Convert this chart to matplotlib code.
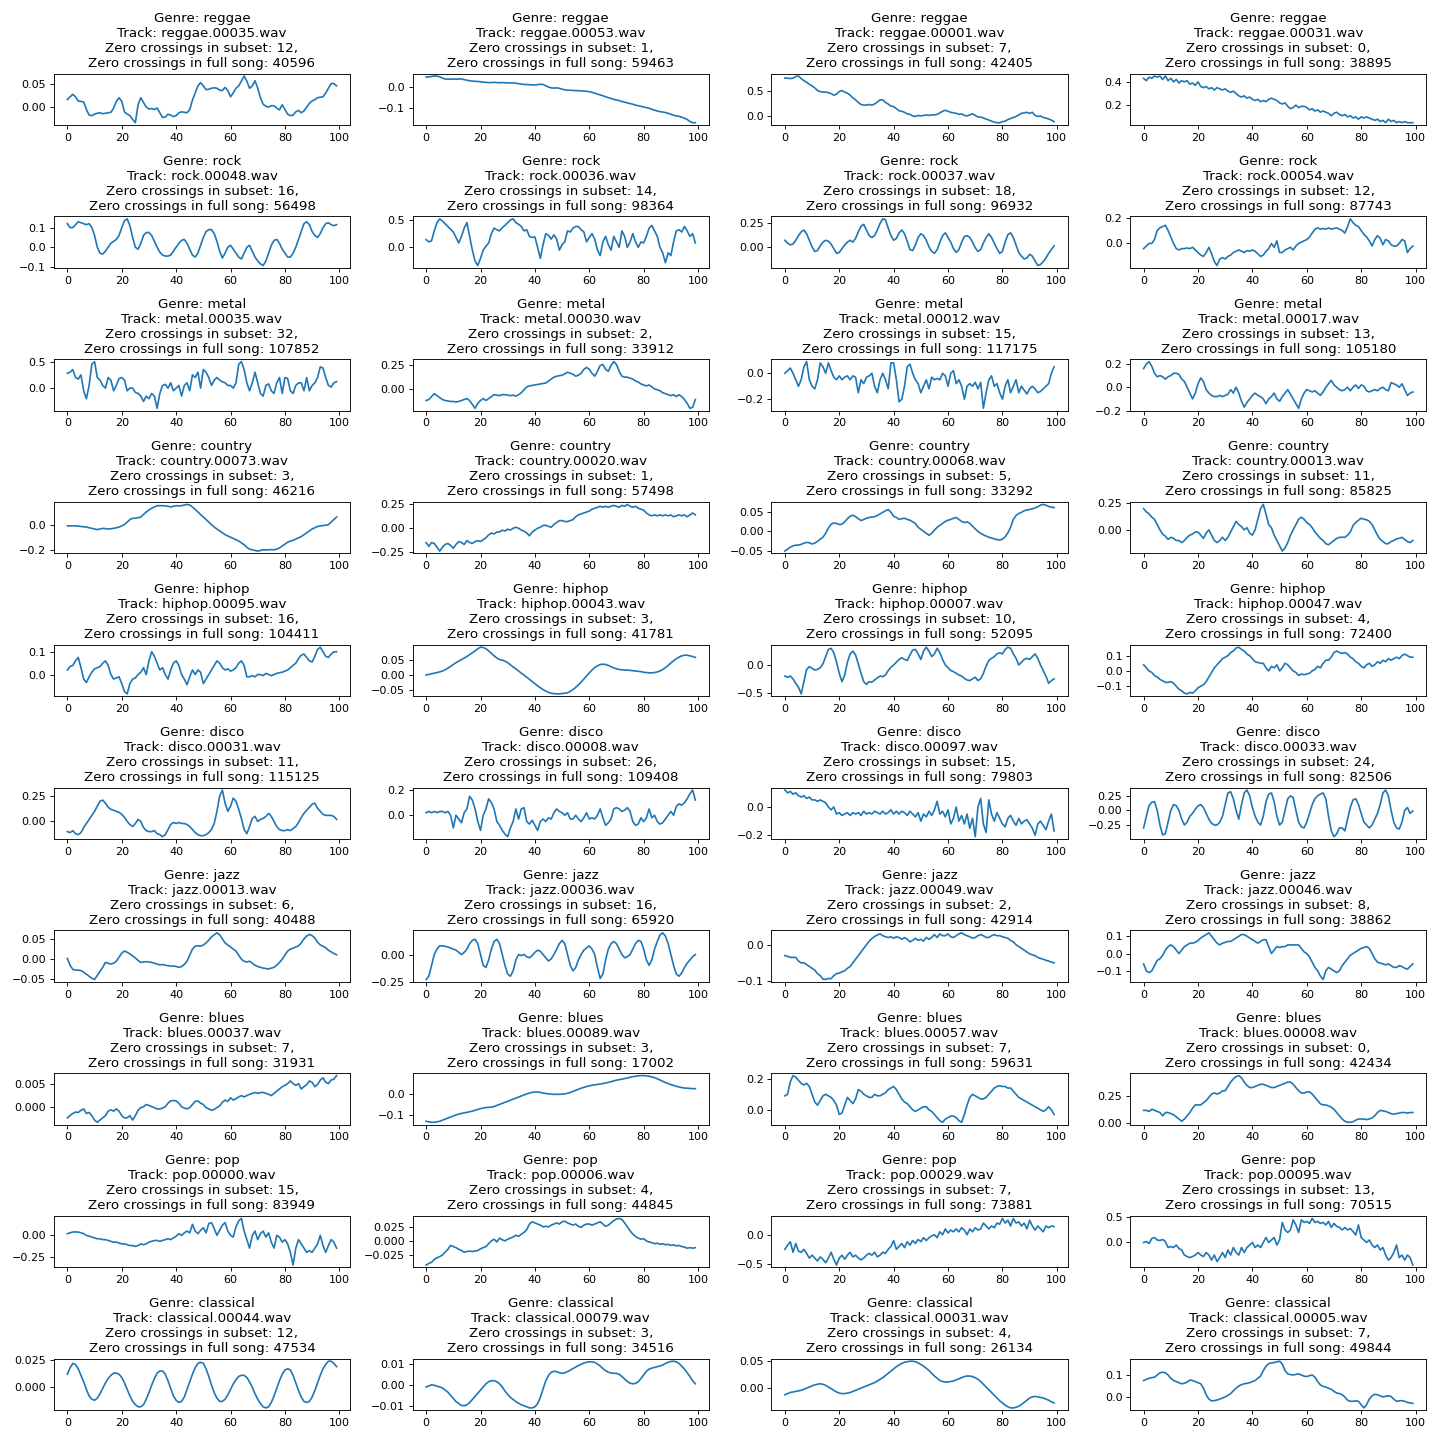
import matplotlib
matplotlib.use('Agg')
import matplotlib.pyplot as plt

genres = ['reggae', 'rock', 'metal', 'country', 'hiphop',
          'disco', 'jazz', 'blues', 'pop', 'classical']

tracks = [['00035', '00053', '00001', '00031'],
          ['00048', '00036', '00037', '00054'],
          ['00035', '00030', '00012', '00017'],
          ['00073', '00020', '00068', '00013'],
          ['00095', '00043', '00007', '00047'],
          ['00031', '00008', '00097', '00033'],
          ['00013', '00036', '00049', '00046'],
          ['00037', '00089', '00057', '00008'],
          ['00000', '00006', '00029', '00095'],
          ['00044', '00079', '00031', '00005']]

zc_subset = [[12, 1, 7, 0],
             [16, 14, 18, 12],
             [32, 2, 15, 13],
             [3, 1, 5, 11],
             [16, 3, 10, 4],
             [11, 26, 15, 24],
             [6, 16, 2, 8],
             [7, 3, 7, 0],
             [15, 4, 7, 13],
             [12, 3, 4, 7]]

zc_full = [[40596, 59463, 42405, 38895],
           [56498, 98364, 96932, 87743],
           [107852, 33912, 117175, 105180],
           [46216, 57498, 33292, 85825],
           [104411, 41781, 52095, 72400],
           [115125, 109408, 79803, 82506],
           [40488, 65920, 42914, 38862],
           [31931, 17002, 59631, 42434],
           [83949, 44845, 73881, 70515],
           [47534, 34516, 26134, 49844]]

# first 100 samples of each track
reggae_00035 = [0.016, 0.022, 0.027, 0.022, 0.013, 0.012, 0.011, -0.005, -0.017, -0.018,
                -0.015, -0.013, -0.012, -0.014, -0.013, -0.012, -0.011, -0.002, 0.012, 0.02,
                0.012, -0.01, -0.015, -0.018, -0.026, -0.033, 0.005, 0.02, 0.01, 0.0,
                -0.004, -0.003, -0.005, -0.002, -0.012, -0.022, -0.021, -0.015, -0.017, -0.02,
                -0.018, -0.012, -0.01, -0.011, -0.012, -0.005, 0.015, 0.03, 0.045, 0.052,
                0.045, 0.037, 0.038, 0.04, 0.041, 0.04, 0.036, 0.035, 0.042, 0.035,
                0.022, 0.03, 0.04, 0.045, 0.055, 0.066, 0.055, 0.04, 0.045, 0.056,
                0.04, 0.02, 0.006, 0.002, 0.0, 0.003, 0.003, -0.002, -0.006, 0.005,
                -0.005, -0.015, -0.018, -0.017, -0.01, -0.007, -0.012, -0.008, 0.0, 0.008,
                0.013, 0.016, 0.02, 0.021, 0.022, 0.03, 0.04, 0.05, 0.05, 0.045]
reggae_00053 = [0.047, 0.048, 0.05, 0.052, 0.052, 0.048, 0.042, 0.038, 0.037, 0.037,
                0.038, 0.037, 0.038, 0.038, 0.035, 0.032, 0.03, 0.028, 0.027, 0.026,
                0.025, 0.023, 0.022, 0.021, 0.021, 0.022, 0.021, 0.02, 0.021, 0.02,
                0.02, 0.019, 0.02, 0.018, 0.016, 0.014, 0.012, 0.012, 0.011, 0.01,
                0.01, 0.011, 0.013, 0.012, 0.006, 0.0, -0.004, -0.005, -0.004, -0.006,
                -0.01, -0.013, -0.015, -0.015, -0.016, -0.017, -0.017, -0.018, -0.019, -0.02,
                -0.022, -0.025, -0.029, -0.033, -0.037, -0.041, -0.046, -0.05, -0.054, -0.058,
                -0.061, -0.064, -0.068, -0.071, -0.075, -0.078, -0.081, -0.085, -0.088, -0.091,
                -0.094, -0.097, -0.1, -0.105, -0.109, -0.113, -0.116, -0.118, -0.12, -0.124,
                -0.128, -0.133, -0.136, -0.138, -0.142, -0.147, -0.153, -0.162, -0.168, -0.168]
reggae_00001 = [0.74, 0.74, 0.73, 0.74, 0.77, 0.78, 0.73, 0.69, 0.66, 0.62,
                0.59, 0.55, 0.5, 0.48, 0.47, 0.47, 0.46, 0.44, 0.41, 0.43,
                0.48, 0.5, 0.47, 0.45, 0.41, 0.36, 0.32, 0.27, 0.23, 0.22,
                0.22, 0.23, 0.22, 0.24, 0.28, 0.32, 0.32, 0.27, 0.24, 0.2,
                0.19, 0.15, 0.11, 0.1, 0.08, 0.05, 0.04, 0.01, 0.0, 0.02,
                0.01, 0.02, 0.03, 0.02, 0.03, 0.03, 0.04, 0.07, 0.1, 0.12,
                0.1, 0.08, 0.07, 0.06, 0.04, 0.05, 0.02, 0.01, 0.03, 0.05,
                0.02, -0.01, -0.01, -0.03, -0.05, -0.07, -0.09, -0.11, -0.12, -0.12,
                -0.1, -0.09, -0.06, -0.04, -0.02, 0.0, 0.03, 0.06, 0.07, 0.08,
                0.06, 0.08, 0.02, 0.0, 0.01, -0.02, -0.03, -0.05, -0.07, -0.1]
reggae_00031 = [0.43, 0.41, 0.44, 0.43, 0.45, 0.44, 0.45, 0.42, 0.45, 0.41,
                0.43, 0.4, 0.42, 0.39, 0.41, 0.4, 0.41, 0.38, 0.39, 0.37,
                0.4, 0.36, 0.35, 0.36, 0.34, 0.35, 0.33, 0.35, 0.34, 0.33,
                0.34, 0.32, 0.31, 0.32, 0.3, 0.28, 0.27, 0.28, 0.26, 0.27,
                0.25, 0.24, 0.25, 0.23, 0.24, 0.23, 0.25, 0.26, 0.25, 0.24,
                0.22, 0.21, 0.22, 0.19, 0.17, 0.18, 0.2, 0.18, 0.19, 0.19,
                0.18, 0.16, 0.17, 0.15, 0.16, 0.14, 0.15, 0.14, 0.13, 0.11,
                0.13, 0.14, 0.12, 0.11, 0.12, 0.1, 0.11, 0.09, 0.1, 0.08,
                0.1, 0.09, 0.1, 0.09, 0.08, 0.07, 0.08, 0.06, 0.07, 0.05,
                0.08, 0.06, 0.07, 0.05, 0.06, 0.05, 0.06, 0.05, 0.05, 0.05]

rock_00048 = [0.12, 0.1, 0.1, 0.115, 0.13, 0.125, 0.12, 0.115, 0.12, 0.1,
              0.06, 0.0, -0.03, -0.035, -0.02, 0.0, 0.02, 0.03, 0.04, 0.06,
              0.1, 0.135, 0.145, 0.11, 0.05, 0.0, -0.01, 0.02, 0.06, 0.075,
              0.075, 0.06, 0.03, 0.0, -0.025, -0.04, -0.045, -0.045, -0.04, -0.02,
              0.0, 0.02, 0.035, 0.04, 0.02, -0.01, -0.04, -0.05, -0.03, 0.01,
              0.05, 0.08, 0.09, 0.09, 0.07, 0.03, -0.02, -0.055, -0.03, 0.0,
              0.01, -0.01, -0.03, -0.05, -0.06, -0.03, 0.0, 0.01, -0.02, -0.05,
              -0.07, -0.085, -0.093, -0.07, -0.03, 0.01, 0.035, 0.04, 0.02, -0.01,
              -0.03, -0.05, -0.05, -0.03, 0.0, 0.04, 0.08, 0.12, 0.13, 0.115,
              0.08, 0.06, 0.05, 0.07, 0.1, 0.12, 0.125, 0.115, 0.11, 0.115]
rock_00036 = [0.14, 0.1, 0.12, 0.3, 0.45, 0.52, 0.48, 0.43, 0.38, 0.33,
              0.28, 0.18, 0.08, 0.2, 0.35, 0.45, 0.2, -0.05, -0.25, -0.33,
              -0.2, -0.05, 0.02, 0.08, 0.25, 0.35, 0.32, 0.3, 0.36, 0.4,
              0.45, 0.5, 0.52, 0.45, 0.42, 0.38, 0.3, 0.32, 0.2, 0.18,
              0.19, 0.0, -0.2, 0.05, 0.25, 0.22, 0.15, 0.23, 0.15, -0.05,
              0.05, 0.1, 0.3, 0.28, 0.35, 0.38, 0.38, 0.32, 0.28, 0.1,
              0.18, 0.25, 0.15, -0.05, -0.15, 0.1, 0.2, 0.05, -0.05, 0.2,
              0.1, 0.0, 0.3, 0.2, 0.0, 0.1, 0.25, 0.1, 0.0, 0.1,
              0.08, 0.2, 0.35, 0.4, 0.3, 0.2, 0.0, -0.1, -0.28, -0.1,
              -0.15, 0.1, 0.3, 0.32, 0.28, 0.38, 0.3, 0.2, 0.25, 0.08]
rock_00037 = [0.07, 0.04, 0.02, 0.03, 0.07, 0.12, 0.16, 0.18, 0.14, 0.07,
              0.0, -0.05, -0.04, 0.01, 0.05, 0.07, 0.06, 0.03, -0.02, -0.07,
              -0.06, -0.02, 0.02, 0.05, 0.07, 0.05, 0.09, 0.16, 0.22, 0.24,
              0.18, 0.12, 0.1, 0.12, 0.18, 0.25, 0.3, 0.29, 0.2, 0.12,
              0.07, 0.09, 0.15, 0.18, 0.14, 0.06, -0.03, -0.04, 0.02, 0.1,
              0.14, 0.12, 0.07, 0.0, -0.05, -0.07, -0.03, 0.05, 0.12, 0.15,
              0.1, 0.05, -0.02, -0.06, -0.03, 0.05, 0.11, 0.12, 0.1, 0.05,
              -0.01, -0.05, -0.03, 0.04, 0.1, 0.14, 0.1, 0.04, -0.02, -0.07,
              -0.05, 0.05, 0.13, 0.15, 0.1, 0.02, -0.06, -0.1, -0.13, -0.12,
              -0.08, -0.1, -0.15, -0.2, -0.19, -0.16, -0.12, -0.07, -0.03, 0.01]
rock_00054 = [-0.04, -0.02, 0.0, 0.0, 0.03, 0.1, 0.12, 0.13, 0.14, 0.1,
              0.05, 0.0, -0.04, -0.05, -0.04, -0.04, -0.035, -0.04, -0.03, -0.05,
              -0.07, -0.09, -0.1, -0.07, -0.03, -0.08, -0.14, -0.17, -0.12, -0.11,
              -0.12, -0.1, -0.09, -0.07, -0.06, -0.05, -0.06, -0.07, -0.055, -0.06,
              -0.05, -0.06, -0.08, -0.1, -0.09, -0.06, -0.04, 0.0, -0.03, 0.02,
              -0.07, -0.07, -0.05, -0.04, -0.03, -0.05, -0.02, 0.0, 0.01, 0.02,
              0.03, 0.05, 0.08, 0.11, 0.12, 0.11, 0.115, 0.11, 0.12, 0.11,
              0.115, 0.12, 0.11, 0.1, 0.08, 0.13, 0.19, 0.16, 0.14, 0.13,
              0.1, 0.07, 0.05, 0.02, -0.02, 0.03, 0.06, 0.04, -0.01, 0.03,
              0.02, -0.01, -0.02, -0.02, 0.0, 0.03, 0.02, -0.07, -0.04, -0.02]

metal_00035 = [0.28, 0.3, 0.35, 0.2, 0.17, 0.25, -0.05, -0.2, 0.05, 0.45,
               0.5, 0.2, 0.15, 0.05, 0.0, 0.2, 0.15, -0.05, 0.05, 0.18,
               0.2, 0.15, -0.05, 0.0, 0.0, -0.08, -0.1, -0.15, -0.25, -0.15,
               -0.2, -0.1, -0.15, -0.38, -0.1, 0.05, 0.07, 0.0, 0.1, -0.05,
               0.0, 0.05, -0.15, 0.05, 0.1, -0.05, 0.25, 0.2, 0.3, 0.0,
               0.35, 0.3, 0.2, 0.05, 0.15, 0.2, 0.15, 0.12, 0.1, 0.05,
               0.05, 0.0, 0.1, 0.45, 0.5, 0.35, 0.1, -0.05, 0.1, 0.3,
               0.1, -0.1, -0.15, 0.05, 0.08, -0.05, -0.1, 0.1, 0.2, -0.1,
               0.2, 0.18, -0.05, -0.1, 0.05, 0.1, 0.1, -0.05, 0.2, -0.05,
               0.05, 0.1, 0.2, 0.4, 0.38, 0.2, 0.05, 0.02, 0.1, 0.12]
metal_00030 = [-0.12, -0.11, -0.08, -0.05, -0.07, -0.09, -0.11, -0.12, -0.125, -0.13,
               -0.13, -0.135, -0.13, -0.12, -0.11, -0.1, -0.12, -0.16, -0.2, -0.15,
               -0.12, -0.1, -0.12, -0.1, -0.08, -0.06, -0.065, -0.07, -0.06, -0.06,
               -0.065, -0.07, -0.065, -0.075, -0.06, -0.04, -0.01, 0.02, 0.03, 0.035,
               0.04, 0.045, 0.05, 0.055, 0.06, 0.08, 0.1, 0.12, 0.13, 0.135,
               0.14, 0.155, 0.17, 0.16, 0.15, 0.13, 0.14, 0.16, 0.2, 0.22,
               0.2, 0.16, 0.13, 0.18, 0.24, 0.25, 0.2, 0.18, 0.24, 0.28,
               0.25, 0.18, 0.13, 0.12, 0.12, 0.11, 0.1, 0.08, 0.07, 0.05,
               0.04, 0.03, 0.04, 0.02, 0.0, -0.01, -0.02, -0.04, -0.05, -0.06,
               -0.07, -0.06, -0.08, -0.06, -0.08, -0.11, -0.15, -0.2, -0.19, -0.11]
metal_00012 = [0.0, 0.02, 0.04, 0.0, -0.05, -0.1, -0.05, 0.05, 0.09, -0.05,
               -0.1, -0.12, -0.05, 0.08, 0.05, 0.0, 0.08, 0.02, -0.03, -0.05,
               -0.02, -0.05, -0.03, -0.02, -0.05, -0.02, -0.03, -0.15, -0.05, -0.08,
               -0.03, -0.02, 0.0, -0.1, -0.15, -0.05, 0.0, -0.05, -0.12, 0.08,
               0.08, -0.05, -0.22, -0.2, -0.1, 0.05, 0.07, 0.0, -0.05, -0.08,
               -0.15, -0.1, -0.05, -0.12, -0.03, -0.05, -0.04, -0.05, 0.0, -0.02,
               -0.1, 0.0, 0.02, -0.08, -0.05, -0.1, -0.2, -0.1, -0.08, -0.1,
               -0.07, -0.12, -0.07, -0.27, -0.15, -0.05, -0.02, -0.1, -0.08, -0.15,
               -0.2, -0.1, -0.05, -0.15, -0.1, -0.05, -0.15, -0.1, -0.13, -0.16,
               -0.12, -0.1, -0.12, -0.15, -0.14, -0.12, -0.1, -0.08, 0.0, 0.05]
metal_00017 = [0.16, 0.2, 0.22, 0.18, 0.12, 0.09, 0.1, 0.09, 0.07, 0.09,
               0.1, 0.12, 0.12, 0.11, 0.07, 0.05, 0.0, -0.05, -0.1, -0.05,
               0.03, 0.08, 0.05, -0.02, -0.05, -0.07, -0.08, -0.08, -0.07, -0.08,
               -0.07, -0.06, -0.02, -0.05, 0.0, -0.05, -0.12, -0.17, -0.13, -0.1,
               -0.07, -0.05, -0.07, -0.08, -0.1, -0.14, -0.1, -0.08, -0.05, -0.1,
               -0.12, -0.08, -0.05, -0.02, -0.06, -0.1, -0.14, -0.18, -0.1, -0.05,
               -0.02, -0.03, -0.04, -0.03, -0.05, -0.07, -0.04, 0.0, 0.03, 0.06,
               0.02, 0.0, -0.02, -0.03, -0.02, 0.0, -0.03, 0.0, 0.02, -0.01,
               0.02, 0.01, -0.03, -0.04, -0.03, -0.02, -0.03, -0.01, 0.0, -0.02,
               -0.03, 0.04, 0.03, 0.02, 0.0, 0.03, -0.02, -0.07, -0.05, -0.04]

country_00073 = [-0.01, -0.01, -0.01, -0.01, -0.012, -0.015, -0.017, -0.02, -0.025, -0.03,
                 -0.035, -0.04, -0.035, -0.03, -0.032, -0.035, -0.033, -0.03, -0.025, -0.02,
                 -0.01, 0.0, 0.02, 0.04, 0.05, 0.05, 0.055, 0.06, 0.08, 0.1,
                 0.115, 0.13, 0.14, 0.15, 0.15, 0.15, 0.148, 0.145, 0.14, 0.145,
                 0.15, 0.148, 0.15, 0.155, 0.16, 0.155, 0.14, 0.12, 0.1, 0.08,
                 0.06, 0.04, 0.02, 0.0, -0.02, -0.035, -0.05, -0.065, -0.08, -0.09,
                 -0.1, -0.11, -0.12, -0.13, -0.145, -0.16, -0.18, -0.195, -0.2, -0.205,
                 -0.21, -0.205, -0.2, -0.2, -0.2, -0.198, -0.2, -0.195, -0.185, -0.17,
                 -0.155, -0.14, -0.13, -0.125, -0.115, -0.105, -0.095, -0.08, -0.065, -0.05,
                 -0.035, -0.025, -0.015, -0.01, -0.008, -0.005, 0.0, 0.02, 0.04, 0.06]
country_00020 = [-0.15, -0.19, -0.15, -0.16, -0.2, -0.24, -0.2, -0.17, -0.16, -0.18,
                 -0.21, -0.17, -0.14, -0.15, -0.17, -0.13, -0.15, -0.16, -0.14, -0.13,
                 -0.14, -0.12, -0.1, -0.07, -0.05, -0.06, -0.04, -0.04, -0.02, -0.03,
                 -0.01, -0.02, 0.0, 0.01, 0.0, -0.02, -0.03, -0.05, -0.08, -0.04,
                 -0.02, 0.0, 0.01, 0.03, 0.03, 0.02, 0.01, 0.04, 0.06, 0.08,
                 0.08, 0.07, 0.07, 0.08, 0.09, 0.12, 0.14, 0.15, 0.16, 0.17,
                 0.18, 0.2, 0.21, 0.22, 0.23, 0.22, 0.23, 0.22, 0.23, 0.24,
                 0.23, 0.22, 0.24, 0.23, 0.25, 0.23, 0.22, 0.23, 0.21, 0.2,
                 0.19, 0.16, 0.14, 0.13, 0.14, 0.13, 0.14, 0.13, 0.14, 0.13,
                 0.14, 0.12, 0.13, 0.14, 0.13, 0.14, 0.12, 0.14, 0.16, 0.14]
country_00068 = [-0.05, -0.045, -0.04, -0.037, -0.035, -0.035, -0.033, -0.03, -0.028, -0.029,
                 -0.032, -0.03, -0.025, -0.02, -0.015, -0.005, 0.008, 0.018, 0.021, 0.02,
                 0.017, 0.018, 0.024, 0.032, 0.038, 0.041, 0.037, 0.032, 0.027, 0.03,
                 0.033, 0.035, 0.036, 0.037, 0.04, 0.044, 0.048, 0.052, 0.055, 0.048,
                 0.038, 0.035, 0.03, 0.032, 0.033, 0.03, 0.028, 0.024, 0.02, 0.01,
                 0.005, 0.0, -0.005, -0.01, -0.005, 0.003, 0.01, 0.015, 0.02, 0.025,
                 0.028, 0.03, 0.033, 0.035, 0.03, 0.025, 0.022, 0.024, 0.02, 0.013,
                 0.006, 0.0, -0.005, -0.009, -0.012, -0.015, -0.017, -0.019, -0.021, -0.022,
                 -0.02, -0.014, -0.004, 0.01, 0.03, 0.04, 0.045, 0.048, 0.052, 0.054,
                 0.055, 0.057, 0.059, 0.062, 0.066, 0.068, 0.066, 0.063, 0.061, 0.06]
country_00013 = [0.2, 0.17, 0.15, 0.12, 0.1, 0.05, 0.0, -0.04, -0.06, -0.09,
                 -0.07, -0.08, -0.1, -0.1, -0.12, -0.1, -0.07, -0.05, -0.04, -0.02,
                 -0.02, -0.05, -0.08, -0.03, 0.0, -0.05, -0.1, -0.12, -0.1, -0.07,
                 -0.1, -0.07, -0.02, 0.03, 0.08, 0.05, 0.03, 0.0, 0.02, -0.03,
                 -0.05, 0.0, 0.1, 0.2, 0.24, 0.15, 0.05, 0.02, -0.05, -0.1,
                 -0.15, -0.2, -0.17, -0.12, -0.05, 0.0, 0.05, 0.1, 0.12, 0.1,
                 0.07, 0.05, 0.02, -0.02, -0.05, -0.08, -0.1, -0.13, -0.14, -0.12,
                 -0.1, -0.08, -0.07, -0.07, -0.07, -0.05, -0.02, 0.04, 0.07, 0.09,
                 0.11, 0.1, 0.095, 0.08, 0.05, 0.0, -0.05, -0.09, -0.11, -0.13,
                 -0.13, -0.11, -0.1, -0.085, -0.08, -0.07, -0.09, -0.11, -0.12, -0.1]

hiphop_00095 = [0.02, 0.035, 0.04, 0.06, 0.075, 0.03, -0.02, -0.035, -0.01, 0.01,
                0.025, 0.03, 0.035, 0.05, 0.06, 0.04, 0.0, -0.02, -0.015, -0.01,
                -0.04, -0.075, -0.085, -0.04, -0.02, -0.015, 0.0, 0.01, 0.03, 0.0,
                0.06, 0.1, 0.08, 0.05, 0.02, 0.03, 0.0, -0.02, 0.02, 0.05,
                0.06, 0.04, 0.0, -0.02, -0.045, -0.01, 0.02, 0.0, 0.02, 0.01,
                -0.04, -0.02, 0.0, 0.02, 0.04, 0.06, 0.05, 0.03, 0.02, 0.025,
                0.015, 0.02, 0.03, 0.05, 0.06, 0.04, -0.01, -0.01, -0.005, -0.01,
                0.0, 0.0, -0.005, 0.005, 0.0, -0.005, 0.0, 0.005, 0.008, 0.01,
                0.015, 0.02, 0.03, 0.04, 0.05, 0.07, 0.085, 0.09, 0.075, 0.06,
                0.055, 0.08, 0.11, 0.12, 0.1, 0.08, 0.075, 0.09, 0.1, 0.1]
hiphop_00043 = [0.0, 0.002, 0.004, 0.006, 0.008, 0.01, 0.013, 0.017, 0.022, 0.028,
                0.034, 0.04, 0.045, 0.05, 0.055, 0.06, 0.066, 0.072, 0.078, 0.085,
                0.09, 0.089, 0.085, 0.078, 0.07, 0.062, 0.055, 0.05, 0.048, 0.045,
                0.04, 0.033, 0.026, 0.02, 0.013, 0.006, 0.0, -0.007, -0.014, -0.021,
                -0.028, -0.035, -0.041, -0.047, -0.052, -0.056, -0.059, -0.06, -0.061, -0.061,
                -0.06, -0.059, -0.057, -0.053, -0.047, -0.04, -0.032, -0.023, -0.013, -0.003,
                0.007, 0.016, 0.024, 0.03, 0.034, 0.035, 0.034, 0.031, 0.027, 0.023,
                0.02, 0.018, 0.017, 0.016, 0.016, 0.015, 0.014, 0.013, 0.012, 0.011,
                0.009, 0.008, 0.007, 0.007, 0.008, 0.01, 0.013, 0.018, 0.024, 0.031,
                0.039, 0.046, 0.053, 0.058, 0.062, 0.064, 0.064, 0.062, 0.06, 0.057]
hiphop_00007 = [-0.2, -0.22, -0.2, -0.25, -0.33, -0.4, -0.52, -0.3, -0.08, -0.03,
                -0.06, -0.09, -0.08, -0.05, 0.02, 0.15, 0.28, 0.3, 0.22, 0.05,
                -0.15, -0.3, -0.18, 0.05, 0.2, 0.25, 0.18, 0.02, -0.15, -0.3,
                -0.35, -0.3, -0.31, -0.27, -0.23, -0.2, -0.21, -0.18, -0.1, -0.04,
                0.0, 0.05, 0.1, 0.13, 0.1, 0.08, 0.18, 0.27, 0.28, 0.2,
                0.1, 0.25, 0.32, 0.25, 0.15, 0.2, 0.3, 0.22, 0.1, 0.0,
                -0.05, -0.1, -0.12, -0.15, -0.18, -0.2, -0.24, -0.27, -0.28, -0.25,
                -0.22, -0.28, -0.25, -0.15, -0.02, 0.08, 0.12, 0.15, 0.2, 0.22,
                0.2, 0.28, 0.32, 0.3, 0.2, 0.12, 0.0, 0.05, 0.1, 0.12,
                0.1, 0.15, 0.2, 0.12, 0.0, -0.1, -0.2, -0.33, -0.28, -0.25]
hiphop_00047 = [0.04, 0.02, 0.0, -0.01, -0.03, -0.04, -0.055, -0.065, -0.075, -0.075,
                -0.07, -0.08, -0.1, -0.12, -0.13, -0.145, -0.15, -0.14, -0.145, -0.13,
                -0.11, -0.1, -0.09, -0.07, -0.04, -0.01, 0.02, 0.04, 0.06, 0.08,
                0.09, 0.1, 0.12, 0.13, 0.15, 0.155, 0.14, 0.13, 0.11, 0.1,
                0.08, 0.06, 0.055, 0.05, 0.05, 0.02, 0.0, 0.03, 0.02, 0.04,
                0.0, 0.02, 0.05, 0.04, 0.02, 0.0, -0.01, -0.03, -0.02, -0.025,
                -0.02, -0.015, 0.0, 0.01, 0.03, 0.02, 0.05, 0.07, 0.07, 0.09,
                0.12, 0.13, 0.12, 0.115, 0.12, 0.11, 0.09, 0.08, 0.06, 0.05,
                0.03, 0.02, 0.04, 0.05, 0.03, 0.04, 0.06, 0.05, 0.07, 0.06,
                0.08, 0.07, 0.08, 0.09, 0.08, 0.1, 0.11, 0.1, 0.09, 0.09]

disco_00031 = [-0.1, -0.11, -0.09, -0.12, -0.13, -0.11, -0.06, -0.02, 0.02, 0.06,
               0.1, 0.15, 0.2, 0.21, 0.18, 0.14, 0.12, 0.11, 0.1, 0.09,
               0.07, 0.04, 0.0, -0.03, -0.05, -0.02, 0.02, 0.0, -0.06, -0.09,
               -0.1, -0.1, -0.09, -0.12, -0.13, -0.15, -0.13, -0.08, -0.03, -0.01,
               -0.02, -0.01, -0.02, -0.02, -0.03, -0.05, -0.08, -0.11, -0.13, -0.14,
               -0.14, -0.13, -0.11, -0.08, -0.02, 0.1, 0.25, 0.31, 0.18, 0.1,
               0.15, 0.23, 0.2, 0.12, 0.03, -0.08, -0.12, -0.05, 0.03, 0.05,
               0.0, 0.02, 0.03, 0.05, 0.08, 0.05, 0.0, -0.05, -0.08, -0.09,
               -0.09, -0.08, -0.09, -0.07, -0.05, -0.01, 0.04, 0.08, 0.11, 0.14,
               0.17, 0.18, 0.13, 0.1, 0.07, 0.06, 0.06, 0.06, 0.05, 0.02]
disco_00008 = [0.02, 0.03, 0.02, 0.03, 0.02, 0.03, 0.03, 0.02, 0.03, 0.0,
               -0.1, 0.0, -0.03, -0.06, 0.02, 0.05, 0.15, 0.12, 0.05, -0.05,
               -0.12, 0.0, 0.05, 0.13, 0.1, 0.05, -0.05, -0.08, -0.12, -0.15,
               -0.17, -0.1, -0.05, 0.05, -0.03, 0.05, 0.06, -0.05, -0.07, -0.04,
               -0.08, -0.12, -0.05, -0.03, -0.05, -0.02, -0.03, 0.02, 0.05, 0.03,
               0.02, 0.0, 0.02, -0.03, -0.03, 0.0, -0.03, -0.05, -0.02, 0.02,
               -0.03, -0.02, -0.03, 0.0, 0.05, -0.02, -0.08, -0.06, -0.03, 0.05,
               0.06, 0.05, 0.03, 0.04, 0.06, 0.03, -0.05, -0.08, -0.07, -0.02,
               -0.05, -0.02, 0.05, -0.02, 0.0, -0.05, -0.07, -0.06, -0.03, 0.0,
               0.03, 0.0, 0.07, 0.09, 0.08, 0.1, 0.13, 0.17, 0.2, 0.12]
disco_00097 = [0.12, 0.1, 0.11, 0.09, 0.1, 0.08, 0.07, 0.08, 0.06, 0.07,
               0.05, 0.05, 0.04, 0.05, 0.04, 0.03, 0.0, -0.02, 0.0, -0.05,
               -0.04, -0.06, -0.05, -0.04, -0.06, -0.04, -0.05, -0.04, -0.06, -0.03,
               -0.05, -0.04, -0.05, -0.03, -0.04, -0.05, -0.03, -0.05, -0.04, -0.02,
               -0.05, -0.03, -0.05, -0.03, -0.04, -0.06, -0.03, -0.05, -0.07, -0.04,
               -0.1, -0.05, -0.07, -0.03, -0.06, -0.02, 0.04, -0.05, -0.03, -0.07,
               -0.02, -0.12, -0.08, 0.0, -0.1, -0.06, -0.12, -0.05, -0.15, -0.08,
               -0.21, 0.0, 0.06, -0.12, -0.18, 0.05, -0.05, -0.1, -0.04, -0.08,
               -0.12, -0.14, -0.08, -0.06, -0.1, -0.13, -0.08, -0.12, -0.1, -0.09,
               -0.12, -0.15, -0.2, -0.12, -0.1, -0.13, -0.16, -0.1, -0.05, -0.17]
disco_00033 = [-0.3, -0.1, 0.08, 0.14, 0.15, 0.0, -0.25, -0.42, -0.4, -0.2,
               0.0, 0.1, 0.08, 0.0, -0.15, -0.25, -0.2, -0.1, -0.05, 0.02,
               0.08, 0.1, 0.05, -0.05, -0.15, -0.22, -0.25, -0.25, -0.2, -0.1,
               0.1, 0.3, 0.32, 0.2, 0.0, -0.15, 0.1, 0.3, 0.35, 0.25,
               0.05, -0.1, -0.2, -0.25, -0.1, 0.15, 0.28, 0.3, 0.15, -0.1,
               -0.25, -0.2, 0.0, 0.2, 0.25, 0.22, 0.0, -0.2, -0.28, -0.3,
               -0.2, -0.05, 0.1, 0.2, 0.25, 0.28, 0.3, 0.2, -0.1, -0.35,
               -0.45, -0.4, -0.3, -0.3, -0.35, -0.15, 0.05, 0.18, 0.2, 0.1,
               -0.05, -0.2, -0.25, -0.3, -0.25, -0.15, -0.05, 0.1, 0.3, 0.35,
               0.25, 0.0, -0.2, -0.3, -0.32, -0.2, 0.0, 0.05, -0.05, -0.01]

jazz_00013 = [0.002, -0.015, -0.025, -0.027, -0.027, -0.028, -0.032, -0.037, -0.042, -0.047,
              -0.05, -0.04, -0.03, -0.02, -0.008, -0.01, -0.012, -0.01, -0.005, 0.005,
              0.015, 0.02, 0.017, 0.013, 0.008, 0.003, -0.003, -0.008, -0.007, -0.006,
              -0.007, -0.008, -0.01, -0.012, -0.014, -0.013, -0.015, -0.016, -0.017, -0.017,
              -0.018, -0.02, -0.018, -0.013, -0.005, 0.01, 0.025, 0.032, 0.033, 0.032,
              0.035, 0.04, 0.047, 0.055, 0.06, 0.065, 0.06, 0.05, 0.04, 0.035,
              0.03, 0.025, 0.02, 0.01, 0.0, -0.005, -0.007, -0.005, -0.01, -0.015,
              -0.018, -0.02, -0.022, -0.023, -0.024, -0.022, -0.02, -0.015, -0.008, 0.0,
              0.01, 0.02, 0.025, 0.027, 0.03, 0.033, 0.04, 0.05, 0.057, 0.061,
              0.058, 0.052, 0.042, 0.035, 0.032, 0.028, 0.022, 0.018, 0.014, 0.011]
jazz_00036 = [-0.23, -0.2, -0.1, 0.0, 0.05, 0.08, 0.08, 0.075, 0.07, 0.06,
              0.05, 0.04, 0.02, 0.0, 0.02, 0.05, 0.1, 0.13, 0.14, 0.1,
              0.0, -0.1, -0.12, -0.05, 0.05, 0.12, 0.14, 0.1, 0.0, -0.1,
              -0.18, -0.2, -0.15, -0.05, 0.0, -0.01, 0.0, -0.02, -0.03, -0.01,
              0.02, 0.04, 0.03, 0.0, -0.03, -0.06, -0.04, 0.0, 0.05, 0.1,
              0.13, 0.1, 0.0, -0.1, -0.15, -0.12, -0.05, 0.0, 0.04, 0.06,
              0.08, 0.05, 0.0, -0.12, -0.22, -0.18, -0.05, 0.05, 0.1, 0.12,
              0.1, 0.05, 0.0, -0.03, -0.02, 0.0, 0.05, 0.1, 0.13, 0.12,
              0.05, -0.05, -0.1, -0.05, 0.05, 0.12, 0.18, 0.2, 0.17, 0.1,
              0.0, -0.1, -0.18, -0.2, -0.17, -0.12, -0.08, -0.05, -0.02, 0.0]
jazz_00049 = [-0.03, -0.032, -0.035, -0.035, -0.035, -0.045, -0.05, -0.05, -0.055, -0.06,
              -0.065, -0.07, -0.08, -0.085, -0.095, -0.096, -0.093, -0.094, -0.085, -0.08,
              -0.078, -0.075, -0.072, -0.065, -0.06, -0.05, -0.04, -0.03, -0.02, -0.01,
              0.0, 0.01, 0.017, 0.023, 0.027, 0.03, 0.025, 0.022, 0.02, 0.022,
              0.018, 0.022, 0.02, 0.015, 0.02, 0.015, 0.008, 0.012, 0.018, 0.012,
              0.015, 0.01, 0.02, 0.015, 0.02, 0.028, 0.02, 0.03, 0.025, 0.025,
              0.03, 0.022, 0.02, 0.025, 0.03, 0.033, 0.028, 0.025, 0.022, 0.018,
              0.02, 0.025, 0.028, 0.025, 0.02, 0.02, 0.025, 0.028, 0.025, 0.025,
              0.022, 0.02, 0.018, 0.012, 0.008, 0.0, -0.005, -0.01, -0.015, -0.02,
              -0.025, -0.028, -0.03, -0.035, -0.038, -0.04, -0.043, -0.045, -0.048, -0.05]
jazz_00046 = [-0.06, -0.1, -0.11, -0.1, -0.07, -0.04, -0.03, -0.01, 0.02, 0.04,
              0.05, 0.04, 0.02, 0.0, 0.02, 0.04, 0.05, 0.06, 0.06, 0.065,
              0.075, 0.09, 0.1, 0.11, 0.12, 0.1, 0.08, 0.06, 0.05, 0.06,
              0.065, 0.07, 0.07, 0.08, 0.09, 0.1, 0.11, 0.11, 0.1, 0.09,
              0.08, 0.07, 0.06, 0.07, 0.08, 0.08, 0.04, 0.0, 0.02, 0.04,
              0.035, 0.04, 0.04, 0.05, 0.05, 0.05, 0.05, 0.05, 0.03, 0.01,
              0.0, -0.02, -0.05, -0.08, -0.1, -0.13, -0.15, -0.1, -0.08, -0.09,
              -0.1, -0.11, -0.1, -0.07, -0.05, -0.03, -0.01, 0.0, 0.01, 0.02,
              0.03, 0.035, 0.04, 0.03, 0.0, -0.03, -0.05, -0.055, -0.06, -0.065,
              -0.06, -0.07, -0.08, -0.08, -0.07, -0.075, -0.085, -0.09, -0.075, -0.06]

blues_00037 = [-0.0025, -0.002, -0.0015, -0.0012, -0.0013, -0.0008, -0.0005, -0.0015, -0.0013, -0.002,
               -0.003, -0.0035, -0.003, -0.0025, -0.002, -0.001, -0.0007, -0.001, -0.0005, -0.001,
               -0.002, -0.0025, -0.0025, -0.002, -0.003, -0.002, -0.0008, -0.0002, 0.0, 0.0005,
               0.0003, 0.0, -0.0002, -0.0005, -0.0005, -0.0003, 0.0, 0.0008, 0.0013, 0.0014,
               0.0013, 0.0008, 0.0, -0.0003, -0.0005, -0.0002, 0.0005, 0.0012, 0.0013, 0.0008,
               0.0005, -0.0002, -0.0005, -0.0008, -0.0006, -0.0002, 0.0002, 0.001, 0.0015, 0.0012,
               0.002, 0.0015, 0.0018, 0.0022, 0.0025, 0.0022, 0.0025, 0.0028, 0.003, 0.0032,
               0.003, 0.0032, 0.0032, 0.003, 0.0028, 0.0025, 0.003, 0.0035, 0.004, 0.0045,
               0.0048, 0.0052, 0.0058, 0.0052, 0.0048, 0.0052, 0.004, 0.0045, 0.005, 0.0058,
               0.0055, 0.0045, 0.005, 0.006, 0.0065, 0.0055, 0.0052, 0.006, 0.0062, 0.007]
blues_00089 = [-0.13, -0.133, -0.135, -0.135, -0.133, -0.13, -0.125, -0.12, -0.115, -0.11,
               -0.105, -0.1, -0.096, -0.093, -0.09, -0.088, -0.085, -0.082, -0.078, -0.074,
               -0.07, -0.067, -0.065, -0.064, -0.063, -0.06, -0.055, -0.05, -0.045, -0.04,
               -0.035, -0.03, -0.025, -0.02, -0.015, -0.01, -0.005, 0.0, 0.004, 0.007,
               0.009, 0.009, 0.007, 0.004, 0.002, 0.0, -0.001, -0.002, -0.002, -0.002,
               -0.001, 0.0, 0.003, 0.007, 0.012, 0.017, 0.022, 0.027, 0.031, 0.035,
               0.038, 0.041, 0.043, 0.045, 0.047, 0.049, 0.052, 0.055, 0.058, 0.062,
               0.065, 0.068, 0.07, 0.073, 0.076, 0.079, 0.082, 0.084, 0.086, 0.087,
               0.087, 0.086, 0.084, 0.081, 0.077, 0.072, 0.066, 0.06, 0.054, 0.049,
               0.044, 0.04, 0.036, 0.033, 0.03, 0.028, 0.027, 0.026, 0.025, 0.025]
blues_00057 = [0.09, 0.1, 0.18, 0.22, 0.21, 0.19, 0.17, 0.16, 0.17, 0.15,
               0.1, 0.05, 0.03, 0.06, 0.09, 0.1, 0.09, 0.08, 0.06, 0.03,
               -0.03, -0.02, 0.03, 0.08, 0.06, 0.04, 0.07, 0.13, 0.12, 0.1,
               0.09, 0.08, 0.08, 0.1, 0.09, 0.09, 0.1, 0.11, 0.13, 0.14,
               0.15, 0.13, 0.1, 0.07, 0.05, 0.04, 0.02, 0.0, -0.01, 0.0,
               0.01, 0.02, 0.02, 0.0, -0.01, -0.03, -0.05, -0.07, -0.08, -0.06,
               -0.05, -0.04, -0.04, -0.05, -0.07, -0.08, -0.03, 0.03, 0.08, 0.1,
               0.09, 0.08, 0.07, 0.07, 0.08, 0.1, 0.12, 0.14, 0.15, 0.155,
               0.15, 0.15, 0.14, 0.14, 0.12, 0.1, 0.08, 0.07, 0.06, 0.05,
               0.04, 0.03, 0.02, 0.01, 0.0, -0.01, 0.0, 0.02, 0.0, -0.03]
blues_00008 = [0.12, 0.12, 0.11, 0.13, 0.12, 0.11, 0.1, 0.07, 0.1, 0.1,
               0.09, 0.08, 0.06, 0.04, 0.02, 0.04, 0.07, 0.1, 0.14, 0.17,
               0.17, 0.17, 0.19, 0.21, 0.24, 0.27, 0.28, 0.27, 0.28, 0.3,
               0.3, 0.34, 0.38, 0.41, 0.43, 0.44, 0.42, 0.38, 0.35, 0.33,
               0.33, 0.34, 0.35, 0.36, 0.36, 0.35, 0.34, 0.33, 0.33, 0.34,
               0.35, 0.36, 0.37, 0.38, 0.38, 0.36, 0.33, 0.3, 0.28, 0.28,
               0.29, 0.29, 0.27, 0.24, 0.21, 0.18, 0.17, 0.17, 0.16, 0.15,
               0.13, 0.1, 0.07, 0.04, 0.02, 0.01, 0.01, 0.015, 0.03, 0.04,
               0.04, 0.04, 0.035, 0.04, 0.05, 0.07, 0.1, 0.12, 0.115, 0.11,
               0.1, 0.09, 0.085, 0.09, 0.095, 0.1, 0.1, 0.095, 0.1, 0.1]

pop_00000 = [0.02, 0.03, 0.04, 0.04, 0.04, 0.03, 0.02, 0.0, -0.01, -0.02,
             -0.03, -0.04, -0.04, -0.05, -0.05, -0.06, -0.07, -0.08, -0.08, -0.09,
             -0.1, -0.1, -0.11, -0.12, -0.12, -0.13, -0.12, -0.1, -0.11, -0.1,
             -0.08, -0.07, -0.06, -0.06, -0.07, -0.06, -0.05, -0.04, -0.05, -0.03,
             -0.01, 0.02, 0.0, 0.03, 0.05, 0.03, 0.13, 0.05, 0.02, 0.06,
             0.09, 0.03, 0.14, 0.15, 0.08, 0.0, 0.06, 0.12, 0.15, 0.05,
             0.0, -0.02, 0.1, 0.17, 0.2, 0.05, -0.05, -0.15, 0.0, 0.05,
             -0.05, 0.02, 0.05, -0.02, 0.03, -0.08, -0.15, 0.0, -0.02, -0.08,
             -0.05, -0.1, -0.2, -0.35, -0.15, -0.05, -0.1, -0.15, -0.2, -0.18,
             -0.2, -0.15, -0.1, 0.0, -0.12, -0.2, -0.12, -0.05, -0.08, -0.15]
pop_00006 = [-0.043, -0.04, -0.038, -0.033, -0.03, -0.028, -0.025, -0.02, -0.015, -0.008,
             -0.01, -0.012, -0.015, -0.017, -0.02, -0.019, -0.018, -0.019, -0.018, -0.017,
             -0.014, -0.012, -0.01, -0.005, 0.0, 0.003, -0.002, 0.005, 0.002, 0.0,
             0.003, 0.005, 0.007, 0.01, 0.008, 0.012, 0.015, 0.02, 0.03, 0.034,
             0.032, 0.03, 0.028, 0.025, 0.026, 0.025, 0.028, 0.03, 0.032, 0.03,
             0.034, 0.035, 0.032, 0.03, 0.028, 0.03, 0.026, 0.024, 0.028, 0.03,
             0.03, 0.028, 0.03, 0.032, 0.034, 0.03, 0.026, 0.028, 0.032, 0.036,
             0.039, 0.04, 0.038, 0.032, 0.025, 0.018, 0.012, 0.008, 0.005, 0.003,
             0.004, 0.0, -0.002, -0.003, -0.005, -0.004, -0.006, -0.005, -0.007, -0.006,
             -0.008, -0.007, -0.009, -0.008, -0.01, -0.011, -0.013, -0.012, -0.013, -0.012]
pop_00029 = [-0.25, -0.18, -0.12, -0.3, -0.15, -0.28, -0.3, -0.25, -0.32, -0.4,
             -0.35, -0.4, -0.45, -0.38, -0.42, -0.48, -0.4, -0.3, -0.42, -0.52,
             -0.4, -0.35, -0.42, -0.35, -0.3, -0.38, -0.35, -0.4, -0.43, -0.4,
             -0.35, -0.32, -0.35, -0.3, -0.38, -0.35, -0.3, -0.32, -0.25, -0.2,
             -0.1, -0.25, -0.2, -0.15, -0.22, -0.12, -0.18, -0.1, -0.15, -0.08,
             -0.12, -0.05, -0.1, -0.05, -0.02, 0.0, -0.05, 0.05, 0.0, 0.1,
             0.03, 0.08, 0.05, 0.1, 0.05, 0.12, 0.08, 0.0, 0.1, 0.05,
             0.12, 0.08, 0.1, 0.2, 0.15, 0.1, 0.15, 0.12, 0.2, 0.18,
             0.28, 0.2, 0.25, 0.15, 0.28, 0.2, 0.22, 0.15, 0.2, 0.1,
             0.25, 0.15, 0.08, 0.15, 0.1, 0.05, 0.15, 0.12, 0.15, 0.14]
pop_00095 = [0.0, 0.02, -0.02, 0.08, 0.1, 0.05, 0.04, 0.06, 0.02, -0.1,
             -0.08, -0.1, -0.05, -0.12, -0.15, -0.25, -0.28, -0.3, -0.28, -0.25,
             -0.2, -0.25, -0.28, -0.2, -0.25, -0.35, -0.25, -0.38, -0.3, -0.2,
             -0.3, -0.15, -0.25, -0.1, -0.2, -0.25, -0.1, -0.2, -0.1, -0.05,
             0.0, -0.1, -0.05, -0.1, 0.0, 0.1, 0.0, 0.05, 0.1, -0.05,
             0.05, 0.4, 0.25, 0.2, 0.25, 0.45, 0.35, 0.2, 0.45, 0.4,
             0.42, 0.38, 0.48, 0.4, 0.42, 0.38, 0.4, 0.35, 0.42, 0.3,
             0.38, 0.32, 0.3, 0.25, 0.3, 0.25, 0.28, 0.22, 0.15, 0.35,
             0.1, 0.05, 0.0, 0.05, -0.05, -0.1, -0.05, -0.15, -0.1, -0.25,
             -0.35, -0.3, -0.2, -0.05, -0.3, -0.25, -0.35, -0.25, -0.3, -0.45]

classical_00044 = [0.012, 0.018, 0.022, 0.021, 0.017, 0.011, 0.005, -0.002, -0.008, -0.011,
                   -0.012, -0.01, -0.006, -0.001, 0.004, 0.008, 0.011, 0.013, 0.013, 0.012,
                   0.009, 0.004, -0.002, -0.008, -0.013, -0.016, -0.018, -0.018, -0.016, -0.011,
                   -0.005, 0.002, 0.008, 0.013, 0.015, 0.015, 0.012, 0.006, -0.001, -0.008,
                   -0.012, -0.014, -0.013, -0.009, -0.002, 0.005, 0.012, 0.018, 0.022, 0.023,
                   0.022, 0.017, 0.01, 0.002, -0.005, -0.01, -0.013, -0.013, -0.011, -0.007,
                   -0.002, 0.003, 0.007, 0.01, 0.011, 0.011, 0.009, 0.005, 0.0, -0.006,
                   -0.011, -0.015, -0.018, -0.019, -0.018, -0.014, -0.008, -0.001, 0.006, 0.012,
                   0.016, 0.017, 0.016, 0.011, 0.004, -0.003, -0.009, -0.013, -0.014, -0.013,
                   -0.009, -0.003, 0.004, 0.011, 0.017, 0.021, 0.024, 0.024, 0.022, 0.019]
classical_00079 = [-0.001, -0.0005, 0.0, -0.0002, -0.0006, -0.001, -0.0015, -0.0025, -0.0035, -0.005,
                   -0.0065, -0.008, -0.009, -0.0098, -0.01, -0.0095, -0.0085, -0.007, -0.0055, -0.004,
                   -0.0025, -0.001, 0.0005, 0.0015, 0.002, 0.002, 0.0015, 0.0005, -0.001, -0.003,
                   -0.0045, -0.006, -0.007, -0.008, -0.0088, -0.0095, -0.01, -0.0105, -0.011, -0.011,
                   -0.0105, -0.009, -0.006, -0.002, 0.002, 0.0045, 0.006, 0.0065, 0.0063, 0.0058,
                   0.0055, 0.0058, 0.0063, 0.007, 0.0078, 0.0085, 0.0092, 0.0098, 0.0104, 0.0108,
                   0.011, 0.011, 0.0107, 0.01, 0.009, 0.0078, 0.0068, 0.006, 0.0057, 0.0055,
                   0.0055, 0.005, 0.004, 0.0028, 0.0016, 0.0008, 0.0005, 0.0007, 0.0015, 0.003,
                   0.0048, 0.0065, 0.0075, 0.008, 0.0083, 0.0087, 0.009, 0.0095, 0.0102, 0.0108,
                   0.0112, 0.0113, 0.011, 0.0102, 0.009, 0.0075, 0.0058, 0.004, 0.002, 0.0005]
classical_00031 = [-0.012, -0.01, -0.008, -0.007, -0.006, -0.005, -0.004, -0.002, 0.0, 0.002,
                   0.004, 0.006, 0.007, 0.008, 0.007, 0.005, 0.002, -0.001, -0.004, -0.007,
                   -0.009, -0.01, -0.01, -0.009, -0.008, -0.006, -0.004, -0.002, 0.0, 0.002,
                   0.004, 0.006, 0.008, 0.01, 0.013, 0.016, 0.019, 0.023, 0.027, 0.031,
                   0.035, 0.039, 0.042, 0.045, 0.047, 0.048, 0.049, 0.049, 0.048, 0.046,
                   0.043, 0.04, 0.036, 0.032, 0.027, 0.022, 0.018, 0.014, 0.012, 0.011,
                   0.011, 0.012, 0.013, 0.015, 0.017, 0.019, 0.021, 0.022, 0.022, 0.021,
                   0.019, 0.016, 0.012, 0.007, 0.002, -0.003, -0.008, -0.013, -0.018, -0.023,
                   -0.027, -0.031, -0.034, -0.036, -0.036, -0.035, -0.033, -0.03, -0.026, -0.022,
                   -0.018, -0.016, -0.015, -0.016, -0.017, -0.018, -0.02, -0.022, -0.025, -0.027]
classical_00005 = [0.075, 0.08, 0.085, 0.088, 0.09, 0.1, 0.11, 0.113, 0.11, 0.1,
                   0.085, 0.075, 0.07, 0.065, 0.06, 0.062, 0.068, 0.077, 0.075, 0.07,
                   0.065, 0.06, 0.04, 0.01, -0.01, -0.018, -0.017, -0.014, -0.01, -0.005,
                   0.0, 0.007, 0.015, 0.028, 0.04, 0.05, 0.056, 0.06, 0.062, 0.065,
                   0.07, 0.075, 0.085, 0.095, 0.12, 0.14, 0.152, 0.155, 0.157, 0.16,
                   0.163, 0.15, 0.12, 0.105, 0.102, 0.1, 0.103, 0.105, 0.1, 0.095,
                   0.093, 0.097, 0.1, 0.09, 0.07, 0.055, 0.048, 0.045, 0.04, 0.035,
                   0.025, 0.018, 0.015, 0.01, 0.0, -0.015, -0.02, -0.02, -0.018, -0.02,
                   -0.035, -0.05, -0.035, -0.01, 0.005, 0.012, 0.01, 0.005, 0.0, 0.003,
                   0.005, 0.002, -0.01, -0.02, -0.018, -0.017, -0.02, -0.025, -0.027, -0.03]

signals = [[reggae_00035, reggae_00053, reggae_00001, reggae_00031],
           [rock_00048, rock_00036, rock_00037, rock_00054],
           [metal_00035, metal_00030, metal_00012, metal_00017],
           [country_00073, country_00020, country_00068, country_00013],
           [hiphop_00095, hiphop_00043, hiphop_00007, hiphop_00047],
           [disco_00031, disco_00008, disco_00097, disco_00033],
           [jazz_00013, jazz_00036, jazz_00049, jazz_00046],
           [blues_00037, blues_00089, blues_00057, blues_00008],
           [pop_00000, pop_00006, pop_00029, pop_00095],
           [classical_00044, classical_00079, classical_00031, classical_00005]]

fig, axes = plt.subplots(10, 4, figsize=(18, 18), dpi=80)

for r, genre in enumerate(genres):
    for c in range(4):
        ax = axes[r, c]
        ax.plot(signals[r][c])
        ax.set_title(f"Genre: {genre}\n"
                     f"Track: {genre}.{tracks[r][c]}.wav\n"
                     f"Zero crossings in subset: {zc_subset[r][c]},\n"
                     f"Zero crossings in full song: {zc_full[r][c]}")

fig.tight_layout()
fig.savefig('out.png', dpi=80)
